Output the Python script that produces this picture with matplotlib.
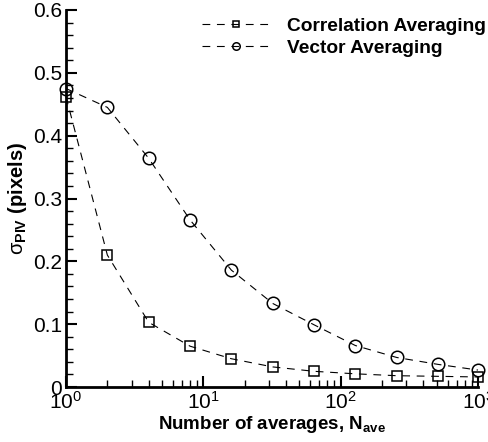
import matplotlib
matplotlib.use("Agg")
import matplotlib.pyplot as plt
from matplotlib.ticker import MultipleLocator, LogLocator, NullFormatter, FuncFormatter

plt.rcParams['font.family'] = ['Liberation Sans', 'DejaVu Sans']
plt.rcParams['mathtext.fontset'] = 'custom'
plt.rcParams['mathtext.rm'] = 'Liberation Sans'
plt.rcParams['mathtext.bf'] = 'Liberation Sans:bold'

n_ave = [1, 2, 4, 8, 16, 32, 64, 128, 256, 512, 1000]
corr_avg = [0.462, 0.210, 0.103, 0.065, 0.045, 0.032, 0.025, 0.021, 0.018, 0.017, 0.016]
vec_avg = [0.475, 0.445, 0.364, 0.266, 0.186, 0.133, 0.099, 0.066, 0.047, 0.036, 0.027]

fig = plt.figure(figsize=(4.89, 4.42), dpi=100)
ax = fig.add_axes([0.135, 0.1244, 0.8425, 0.8530])

ax.plot(n_ave, corr_avg, 'k--', lw=0.8, dashes=(7, 6), marker='s', ms=7,
        mfc='none', mec='k', mew=1.1, label='Correlation Averaging', clip_on=False)
ax.plot(n_ave, vec_avg, 'k--', lw=0.8, dashes=(7, 6), marker='o', ms=9,
        mfc='none', mec='k', mew=1.1, label='Vector Averaging', clip_on=False)

ax.set_xscale('log')
ax.set_xlim(1, 1000)
ax.set_ylim(0, 0.6)
ax.yaxis.set_major_locator(MultipleLocator(0.1))
ax.yaxis.set_minor_locator(MultipleLocator(0.02))
ax.yaxis.set_major_formatter(FuncFormatter(lambda v, p: '0' if abs(v) < 1e-9 else f'{v:.1f}'))
ax.xaxis.set_major_locator(LogLocator(base=10))
ax.xaxis.set_minor_locator(LogLocator(base=10, subs=range(2, 10)))
ax.xaxis.set_minor_formatter(NullFormatter())

for s in ['top', 'right']:
    ax.spines[s].set_visible(False)
for s in ['left', 'bottom']:
    ax.spines[s].set_linewidth(2)

ax.tick_params(which='major', direction='in', length=8, width=1.5, labelsize=15, pad=3)
ax.tick_params(which='minor', direction='in', length=5, width=1)

ax.set_xlabel(r'Number of averages, N$_{\mathbf{ave}}$', fontsize=13.5, fontweight='bold', labelpad=1)
ax.set_ylabel(r'$\mathrm{σ}_{\mathbf{PIV}}$ (pixels)', fontsize=14.5, fontweight='bold', labelpad=3)

leg = ax.legend(loc='upper left', bbox_to_anchor=(0.33, 0.981), frameon=False,
                borderpad=0, borderaxespad=0,
                prop={'weight': 'bold', 'size': 13.8}, handlelength=3.6,
                handletextpad=0.85, labelspacing=0.25, markerscale=0.6)

fig.savefig('out.png', dpi=100)
